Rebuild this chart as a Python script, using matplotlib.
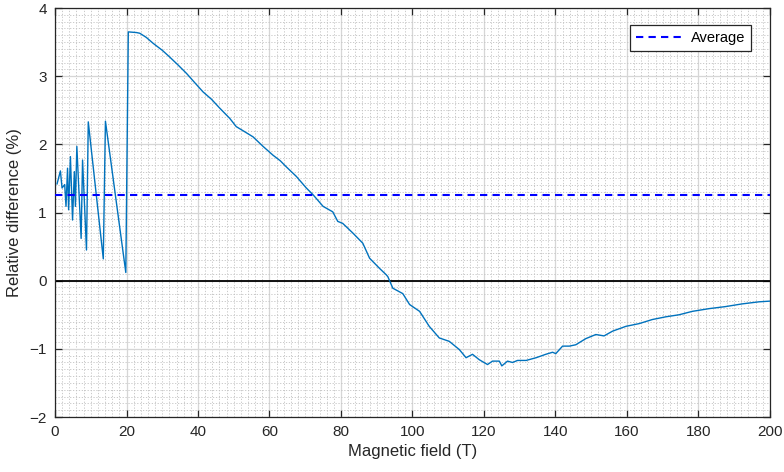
import matplotlib
matplotlib.use("Agg")
import matplotlib.pyplot as plt
from matplotlib.ticker import MultipleLocator

plt.rcParams['font.family'] = ['Liberation Sans', 'DejaVu Sans']

# Magnetic field (T) and relative difference (%)
field = [0.56, 1.5, 1.96, 2.7, 3.07, 3.5, 3.8, 4.3, 4.9, 5.4, 5.7, 6.1, 7.3, 7.7,
         8.8, 9.3, 13.5, 14.1, 19.8, 20.5, 22.8, 23.7, 25.5, 27.5, 30.0, 32.1, 34.5,
         36.8, 39.0, 41.4, 43.8, 46.1, 48.9, 50.7, 52.6, 55.4, 58.2, 61.0, 63.0,
         64.7, 67.5, 70.3, 72.2, 75.0, 77.7, 79.1, 80.5, 83.3, 86.1, 88.0, 90.8,
         92.6, 93.1, 94.5, 97.3, 99.2, 102.0, 104.7, 107.5, 110.3, 113.1, 115.0,
         116.8, 118.7, 121.0, 122.4, 124.3, 125.0, 126.6, 128.0, 129.4, 131.8,
         134.6, 137.3, 139.2, 140.1, 142.0, 143.9, 145.7, 148.5, 151.3, 153.6,
         156.0, 159.7, 163.4, 167.1, 170.9, 174.6, 178.3, 183.0, 187.6, 192.3,
         197.0, 200.0]
rel_diff = [1.42, 1.61, 1.36, 1.41, 1.09, 1.65, 1.04, 1.82, 0.89, 1.60, 1.09, 1.97,
            0.62, 1.77, 0.45, 2.33, 0.32, 2.34, 0.12, 3.65, 3.64, 3.63, 3.57, 3.48,
            3.38, 3.28, 3.16, 3.04, 2.91, 2.77, 2.66, 2.53, 2.38, 2.26, 2.20, 2.11,
            1.97, 1.84, 1.76, 1.67, 1.53, 1.36, 1.26, 1.09, 1.01, 0.87, 0.84, 0.70,
            0.55, 0.33, 0.18, 0.09, 0.06, -0.11, -0.19, -0.35, -0.45, -0.67, -0.84,
            -0.89, -1.01, -1.13, -1.08, -1.16, -1.23, -1.18, -1.18, -1.25, -1.18,
            -1.20, -1.17, -1.17, -1.13, -1.08, -1.05, -1.07, -0.96, -0.96, -0.94,
            -0.85, -0.79, -0.81, -0.74, -0.67, -0.63, -0.57, -0.53, -0.50, -0.45,
            -0.41, -0.38, -0.34, -0.31, -0.30]
average = 1.26

x_ticks = [0, 20, 40, 60, 80, 100, 120, 140, 160, 180, 200]
y_ticks = [-2, -1, 0, 1, 2, 3, 4]

fig = plt.figure(figsize=(7.84, 4.72), dpi=100)
ax = fig.add_axes([0.0702, 0.1165, 0.9118, 0.8665])

ax.plot(field, rel_diff, color='#0072BD', lw=1.0, zorder=3)
ax.axhline(0, color='black', lw=1.3, zorder=2)
ax.plot([0, 200], [average, average], color='#0000FF', lw=1.5,
        ls=(0, (3.5, 2.5)), label='Average', zorder=4)

ax.set_xlim(0, 200)
ax.set_ylim(-2, 4)
ax.set_xticks(x_ticks)
ax.set_yticks(y_ticks)
ax.xaxis.set_minor_locator(MultipleLocator(2))
ax.yaxis.set_minor_locator(MultipleLocator(0.1))

ax.grid(which='major', color='#d6d6d6', lw=0.9, ls='-', zorder=0)
ax.grid(which='minor', color='#c2c2c2', lw=0.6, ls=(0, (1.5, 2)), zorder=0)
ax.set_axisbelow(True)

ax.tick_params(which='major', direction='in', length=5, width=0.9,
               top=True, right=True, labelsize=11, colors='#262626',
               pad=6)
ax.tick_params(which='minor', length=0, top=True, right=True)
for sp in ax.spines.values():
    sp.set_color('#262626')
    sp.set_linewidth(0.9)

ax.set_xlabel('Magnetic field (T)', fontsize=12, color='#262626', labelpad=3)
ax.set_ylabel('Relative difference (%)', fontsize=12, color='#262626', labelpad=5)

leg = ax.legend(loc='upper right', bbox_to_anchor=(0.984, 0.976), fontsize=10.5,
                frameon=True, fancybox=False, edgecolor='#262626',
                handlelength=3.2, borderpad=0.4, handletextpad=0.6)
leg.get_frame().set_linewidth(0.9)
leg.get_frame().set_alpha(1.0)

fig.savefig('out.png', dpi=100)
